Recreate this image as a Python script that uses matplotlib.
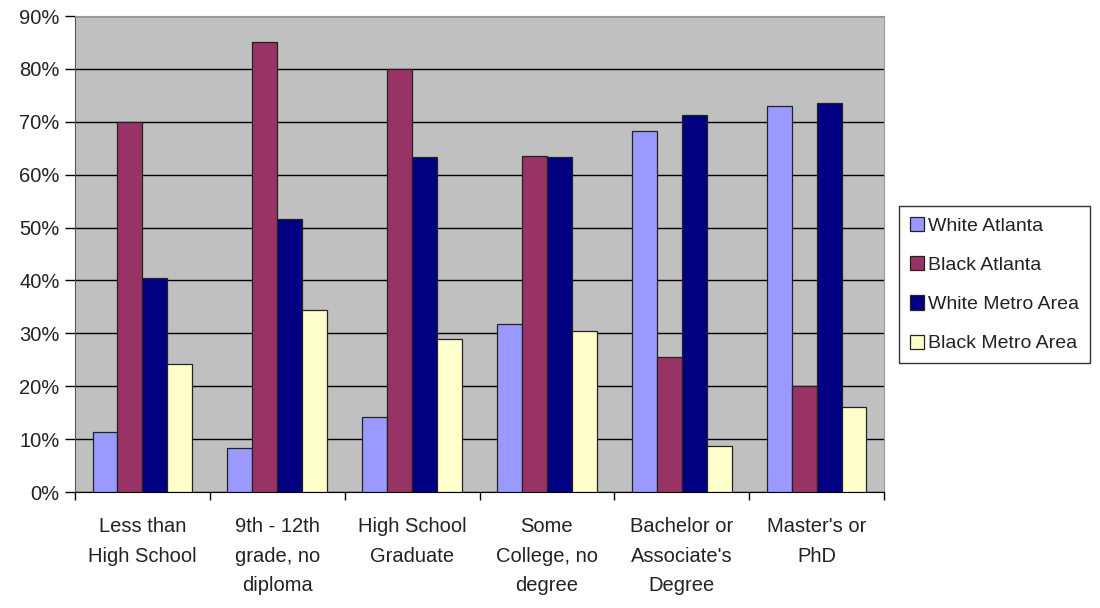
import numpy as np
import matplotlib
matplotlib.use("Agg")
import matplotlib.pyplot as plt
from matplotlib.ticker import PercentFormatter

plt.rcParams["font.family"] = ["Liberation Sans", "DejaVu Sans"]

# Data (percent)
categories = [
    "Less than\nHigh School",
    "9th - 12th\ngrade, no\ndiploma",
    "High School\nGraduate",
    "Some\nCollege, no\ndegree",
    "Bachelor or\nAssociate's\nDegree",
    "Master's or\nPhD",
]
series_names = ["White Atlanta", "Black Atlanta", "White Metro Area", "Black Metro Area"]
white_atlanta = [11.3, 8.4, 14.2, 31.8, 68.3, 73.0]
black_atlanta = [70.0, 85.0, 80.0, 63.6, 25.6, 20.0]
white_metro = [40.5, 51.6, 63.4, 63.4, 71.3, 73.6]
black_metro = [24.2, 34.4, 28.9, 30.5, 8.7, 16.0]
colors = ["#9999FF", "#993366", "#000080", "#FFFFCC"]

values = [white_atlanta, black_atlanta, white_metro, black_metro]

fig = plt.figure(figsize=(11, 6.08), dpi=100)
ax = fig.add_axes([75 / 1100, 116 / 608, 809 / 1100, 476 / 608])
ax.set_facecolor("#C0C0C0")

x = np.arange(len(categories))
width = 0.185
for i, (name, vals, col) in enumerate(zip(series_names, values, colors)):
    ax.bar(x + (i - 1.5) * width, vals, width, color=col, edgecolor="#222222",
           linewidth=0.9, label=name, zorder=3)

ax.set_xlim(-0.5, len(categories) - 0.5)
ax.set_ylim(0, 90)
ax.set_yticks(np.arange(0, 91, 10))
ax.yaxis.set_major_formatter(PercentFormatter(decimals=0))
ax.grid(axis="y", color="black", linewidth=1.0, zorder=1)

ax.set_xticks(x)
ax.set_xticklabels(categories, linespacing=1.7)
ax.set_xticks(np.arange(-0.5, len(categories)), minor=True)
ax.tick_params(axis="x", which="major", length=0, pad=18, labelsize=14.5, labelcolor="#222222")
ax.tick_params(axis="x", which="minor", length=6, width=1, color="black", direction="out")
ax.tick_params(axis="y", length=7, width=1, pad=4, labelsize=14.5, labelcolor="#222222")

ax.spines["bottom"].set_color("black")
ax.spines["left"].set_color("#555555")
ax.spines["top"].set_color("#999999")
ax.spines["right"].set_color("#999999")

leg = fig.legend(loc="upper left", bbox_to_anchor=(899 / 1100, 1 - 206 / 608),
                 frameon=True, fancybox=False, edgecolor="black", fontsize=14,
                 handlelength=0.75, handleheight=0.75, handletextpad=0.2,
                 labelspacing=1.1, borderpad=0.55, borderaxespad=0)
leg.get_frame().set_linewidth(1.0)
for t in leg.get_texts():
    t.set_color("#222222")

fig.savefig("out.png", dpi=100, facecolor="white")
